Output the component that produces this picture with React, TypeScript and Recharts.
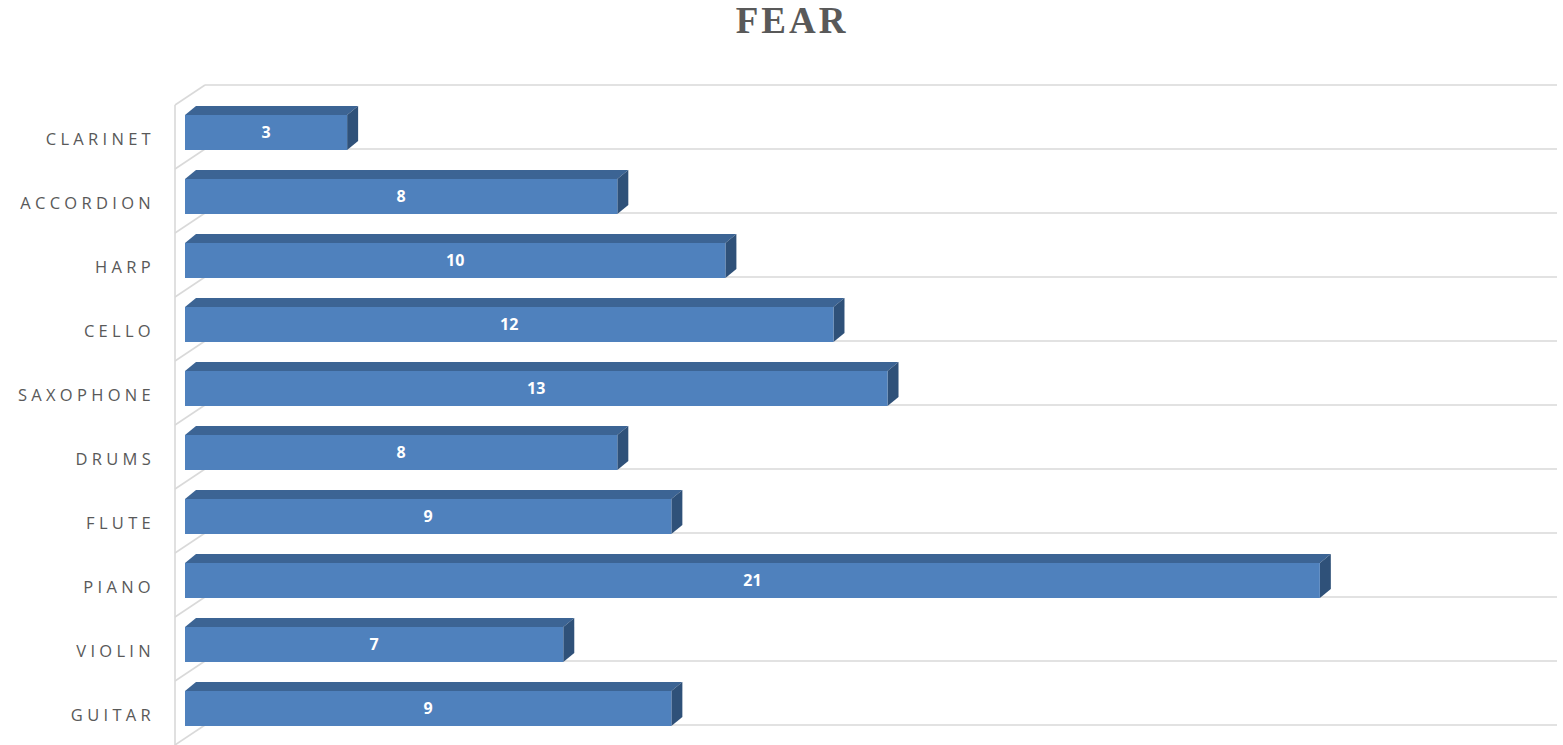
import React from "react";
import { BarChart, Bar, XAxis, YAxis, LabelList } from "recharts";

const categories = [
  "CLARINET",
  "ACCORDION",
  "HARP",
  "CELLO",
  "SAXOPHONE",
  "DRUMS",
  "FLUTE",
  "PIANO",
  "VIOLIN",
  "GUITAR",
];
const fearValues = [3, 8, 10, 12, 13, 8, 9, 21, 7, 9];
const valueDomain: [number, number] = [0, 25];

const data = categories.map((name, i) => ({ name, value: fearValues[i] }));

const W = 1563;
const H = 745;
const MARGIN = { top: 100, right: 27, bottom: 5, left: 0 };
const AXIS_W = 185;
const BAND = (H - MARGIN.top - MARGIN.bottom) / categories.length;

const FRONT = "#4f81bd";
const TOP = "#3c6494";
const SIDE = "#2f5179";
const GRID = "#d9d9d9";

// 3D bar + the floor line of its band (drawn first so the bar sits over it)
const Bar3D = (props: any) => {
  const { x, y, width, height, index } = props;
  const dx = 11;
  const dy = 9;
  const wallFront = AXIS_W - 10;
  const wallBack = AXIS_W + 20;
  const wallRight = W - MARGIN.right + 21;
  const lineY = y + height / 2 + 16.5;
  const topY = lineY - BAND;
  return (
    <g>
      {index === 0 && (
        <g stroke={GRID} strokeWidth={1.6} fill="none">
          <line x1={wallBack} y1={topY} x2={wallRight} y2={topY} />
          <line x1={wallFront} y1={topY + 20} x2={wallBack} y2={topY} />
          <line x1={wallFront} y1={topY + 20} x2={wallFront} y2={H} />
        </g>
      )}
      <g stroke={GRID} strokeWidth={1.6} fill="none">
        <line x1={wallBack} y1={lineY} x2={wallRight} y2={lineY} />
        <line x1={wallFront} y1={lineY + 20} x2={wallBack} y2={lineY} />
      </g>
      <polygon
        points={`${x},${y} ${x + dx},${y - dy} ${x + width + dx},${y - dy} ${x + width},${y}`}
        fill={TOP}
      />
      <polygon
        points={`${x + width},${y} ${x + width + dx},${y - dy} ${x + width + dx},${y + height - dy} ${x + width},${y + height}`}
        fill={SIDE}
      />
      <rect x={x} y={y} width={width} height={height} fill={FRONT} />
    </g>
  );
};

const CategoryTick = (props: any) => {
  const { y, payload } = props;
  return (
    <text
      x={155}
      y={y}
      dy={13}
      textAnchor="end"
      fill="#595959"
      fontSize={16.5}
      letterSpacing={4.3}
      fontFamily="'Open Sans', 'Liberation Sans', sans-serif"
    >
      {payload.value}
    </text>
  );
};

export default function App() {
  return (
    <div
      style={{
        position: "absolute",
        left: 0,
        top: 0,
        width: W,
        height: H,
        background: "#fff",
      }}
    >
      <div
        style={{
          position: "absolute",
          top: 2,
          left: 0,
          width: W,
          paddingLeft: 21,
          boxSizing: "border-box",
          textAlign: "center",
          fontFamily: "'Liberation Serif', 'DejaVu Serif', serif",
          fontWeight: "bold",
          fontSize: 37,
          lineHeight: "37px",
          letterSpacing: 3,
          color: "#595959",
        }}
      >
        FEAR
      </div>
      <BarChart
        width={W}
        height={H}
        data={data}
        layout="vertical"
        margin={MARGIN}
      >
        <XAxis type="number" domain={valueDomain} hide />
        <YAxis
          type="category"
          dataKey="name"
          width={AXIS_W}
          axisLine={false}
          tickLine={false}
          tick={<CategoryTick />}
          interval={0}
        />
        <Bar
          dataKey="value"
          barSize={35}
          shape={<Bar3D />}
          isAnimationActive={false}
        >
          <LabelList
            dataKey="value"
            position="center"
            fill="#ffffff"
            fontSize={16}
            fontWeight="bold"
            fontFamily="'Open Sans', 'Liberation Sans', sans-serif"
          />
        </Bar>
      </BarChart>
    </div>
  );
}
